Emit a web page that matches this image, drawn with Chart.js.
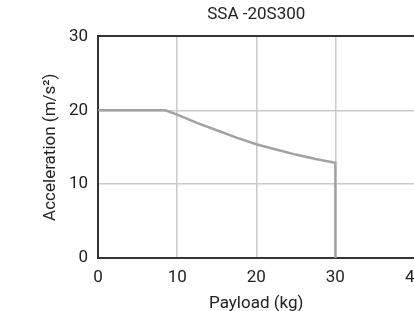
<!DOCTYPE html>
<html>
<head>
<meta charset="utf-8">
<script src="https://cdn.jsdelivr.net/npm/chart.js@4.4.0/dist/chart.umd.min.js"></script>
<style>
  html, body { margin: 0; padding: 0; background: #fff; overflow: hidden; }
  #wrap { position: relative; width: 435px; height: 311px; }
</style>
</head>
<body>
<div id="wrap"><canvas id="graph-canvas"></canvas></div>
<script>
// payload (kg) vs max acceleration (m/s2)
var payload = [0, 8.5, 10, 12.5, 15, 17.5, 20, 22.5, 25, 27.5, 30, 30];
var accel   = [20, 20, 19.4, 18.3, 17.3, 16.3, 15.4, 14.7, 14.0, 13.4, 12.9, 0];
var xTicks = [0, 10, 20, 30, 40];
var yTicks = [0, 10, 20, 30];

var points = [];
for (var i in payload) {
  points.push({x: payload[i], y: accel[i]});
}

var font = {family: 'Roboto', size: 17, lineHeight: 1};
Chart.defaults.color = '#222';

var ctx = document.getElementById('graph-canvas');
var chart = new Chart(ctx, {
  type: 'line',
  data: {
    datasets: [{
      data: points,
      borderColor: '#a2a2a6',
      borderWidth: 2.5,
      pointRadius: 0,
      tension: 0,
      fill: false
    }]
  },
  options: {
    responsive: true,
    maintainAspectRatio: false,
    animation: false,
    layout: { padding: { left: 42, top: 5, right: 0, bottom: 0 } },
    plugins: {
      legend: { display: false },
      tooltip: { enabled: false },
      title: {
        display: true,
        text: 'SSA -20S300',
        fullSize: false,
        font: {family: 'Roboto', size: 17, weight: 'normal'},
        color: '#222',
        padding: { top: 0, bottom: 11 }
      }
    },
    scales: {
      x: {
        type: 'linear',
        min: 0, max: 40,
        afterBuildTicks: function(s) { s.ticks = xTicks.map(function(v){ return {value: v}; }); },
        grid: { color: '#cacaca', lineWidth: 1.5, drawTicks: false },
        border: { color: '#333', width: 2 },
        ticks: { font: font, color: '#222', padding: 11, maxRotation: 0 },
        title: { display: true, text: 'Payload (kg)', font: font, color: '#222', padding: { top: -2, bottom: -1 } }
      },
      y: {
        min: 0, max: 30,
        afterBuildTicks: function(s) { s.ticks = yTicks.map(function(v){ return {value: v}; }); },
        grid: {
          color: function(c) { return c.tick && c.tick.value === 30 ? '#333' : '#cacaca'; },
          lineWidth: function(c) { return c.tick && c.tick.value === 30 ? 2 : 1.5; },
          drawTicks: false
        },
        border: { color: '#333', width: 2 },
        ticks: { font: font, color: '#222', padding: 10 },
        title: { display: true, text: 'Acceleration (m/s²)', font: font, color: '#222', padding: { top: 0, bottom: 0 } }
      }
    }
  }
});
</script>
</body>
</html>
